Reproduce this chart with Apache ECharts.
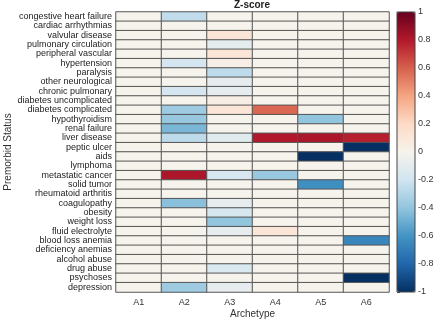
<!DOCTYPE html>
<html>
  <head>
    <meta charset="utf-8" />
    <title>Z-score</title>
    <script src="https://cdn.jsdelivr.net/npm/echarts@6.0.0/dist/echarts.min.js"></script>
    <style>
      body { margin: 0; background: #fff; }
    </style>
  </head>
  <body>
    <div id="main" style="width: 436px;height:320px;"></div>
    <script>
        var archetypes = ['A1', 'A2', 'A3', 'A4', 'A5', 'A6'];
        var conditions = [
          'congestive heart failure', 'cardiac arrhythmias', 'valvular disease',
          'pulmonary circulation', 'peripheral vascular', 'hypertension',
          'paralysis', 'other neurological', 'chronic pulmonary',
          'diabetes uncomplicated', 'diabetes complicated', 'hypothyroidism',
          'renal failure', 'liver disease', 'peptic ulcer', 'aids', 'lymphoma',
          'metastatic cancer', 'solid tumor', 'rheumatoid arthritis',
          'coagulopathy', 'obesity', 'weight loss', 'fluid electrolyte',
          'blood loss anemia', 'deficiency anemias', 'alcohol abuse',
          'drug abuse', 'psychoses', 'depression'
        ];
        // z-score per condition, columns A1..A6
        var zA1 = [0, 0, 0, 0, 0, 0, 0, 0, 0, 0, 0, 0, 0, 0, 0, 0, 0, 0, 0, 0, 0, 0, 0, 0, 0, 0, 0, 0, 0, 0];
        var zA2 = [-0.25, 0, 0, 0, 0, -0.18, 0, 0, -0.18, 0, -0.36, -0.38, -0.46, -0.26, 0, 0, 0, 0.82, 0, 0, -0.42, 0, 0, 0, 0, 0, 0, 0, 0, -0.36];
        var zA3 = [0, 0, 0.12, -0.1, 0.12, 0.04, -0.26, -0.08, -0.08, 0.04, 0.12, 0, 0, -0.12, 0, 0, 0, -0.17, 0, 0, -0.08, -0.17, -0.4, -0.08, 0, 0, 0, -0.15, 0, -0.08];
        var zA4 = [0, 0, 0, 0, 0, 0, 0, 0, 0, 0, 0.58, 0, 0, 0.8, 0, 0, 0, -0.38, 0, 0, 0, 0, 0, 0.12, 0, 0, 0, 0, 0, 0];
        var zA5 = [0, 0, 0, 0, 0, 0, 0, 0, 0, 0, 0, -0.4, 0, 0.82, 0, -1, 0, 0, -0.62, 0, 0, 0, 0, 0, 0, 0, 0, 0, 0, 0];
        var zA6 = [0, 0, 0, 0, 0, 0, 0, 0, 0, 0, 0, 0, 0, 0.78, -1, 0, 0, 0, 0, 0, 0, 0, 0, 0, -0.66, 0, 0, 0, -1, 0];
        var cbTicks = [-1, -0.8, -0.6, -0.4, -0.2, 0, 0.2, 0.4, 0.6, 0.8, 1];

        var cols = [zA1, zA2, zA3, zA4, zA5, zA6];
        var cells = [];
        cols.forEach(function (col, i) {
          col.forEach(function (v, j) {
            cells.push([i, j, v]);
          });
        });

        var fontFam = '"Liberation Sans", Arial, sans-serif';
        var myChart = echarts.init(document.getElementById('main'));
        var option = {
          backgroundColor: '#fff',
          textStyle: { fontFamily: fontFam },
          title: {
            text: 'Z-score',
            left: 252,
            top: 0,
            padding: 0,
            textAlign: 'center',
            textStyle: { fontSize: 10, fontWeight: 'bold', color: '#222', fontFamily: fontFam }
          },
          grid: [
            { left: 116, top: 12, width: 273, height: 280, outerBoundsMode: 'none', containLabel: false },
            { left: 397, top: 12, width: 18, height: 280, show: true, z: 10,
              outerBoundsMode: 'none', containLabel: false,
              borderColor: '#444', borderWidth: 1, backgroundColor: 'transparent' }
          ],
          xAxis: [
            {
              type: 'category',
              gridIndex: 0,
              data: archetypes,
              name: 'Archetype',
              nameLocation: 'middle',
              nameGap: 17,
              nameMoveOverlap: false,
              nameTextStyle: { fontSize: 10, color: '#333' },
              axisLine: { show: false },
              axisTick: { show: false },
              axisLabel: { fontSize: 9, color: '#333', margin: 6 },
              splitLine: { show: false }
            },
            { type: 'value', gridIndex: 1, show: false, min: 0, max: 1 }
          ],
          yAxis: [
            {
              type: 'category',
              gridIndex: 0,
              data: conditions,
              inverse: true,
              name: 'Premorbid Status',
              nameLocation: 'middle',
              nameGap: 103,
              nameMoveOverlap: false,
              nameRotate: 90,
              nameTextStyle: { fontSize: 10, color: '#333' },
              axisLine: { show: false },
              axisTick: { show: false },
              axisLabel: { fontSize: 9, color: '#222', margin: 4, interval: 0 },
              splitLine: { show: false }
            },
            {
              type: 'value',
              gridIndex: 1,
              position: 'right',
              min: -1,
              max: 1,
              interval: 0.2,
              axisLine: { show: false },
              axisTick: { show: true, length: 3, lineStyle: { color: '#444' } },
              axisLabel: {
                fontSize: 9, color: '#333', margin: 3,
                formatter: function (v) {
                  var r = Math.round(v * 10) / 10;
                  return cbTicks.indexOf(r) >= 0 ? String(r) : '';
                }
              },
              splitLine: { show: false }
            }
          ],
          visualMap: {
            type: 'continuous',
            min: -1,
            max: 1,
            seriesIndex: 0,
            calculable: false,
            showLabel: false,
            text: ['', ''],
            left: 397,
            top: 12,
            itemWidth: 18,
            itemHeight: 280,
            padding: 0,
            inRange: {
              color: ['#053061', '#2166ac', '#4393c3', '#92c5de', '#d1e5f0', '#f6f3ec',
                      '#fddbc7', '#f4a582', '#d6604d', '#b2182b', '#67001f']
            }
          },
          series: [
            {
              type: 'heatmap',
              xAxisIndex: 0,
              yAxisIndex: 0,
              data: cells,
              itemStyle: { borderColor: '#555', borderWidth: 1 },
              emphasis: { disabled: true }
            }
          ]
        };
        myChart.setOption(option);
    </script>
  </body>
</html>
